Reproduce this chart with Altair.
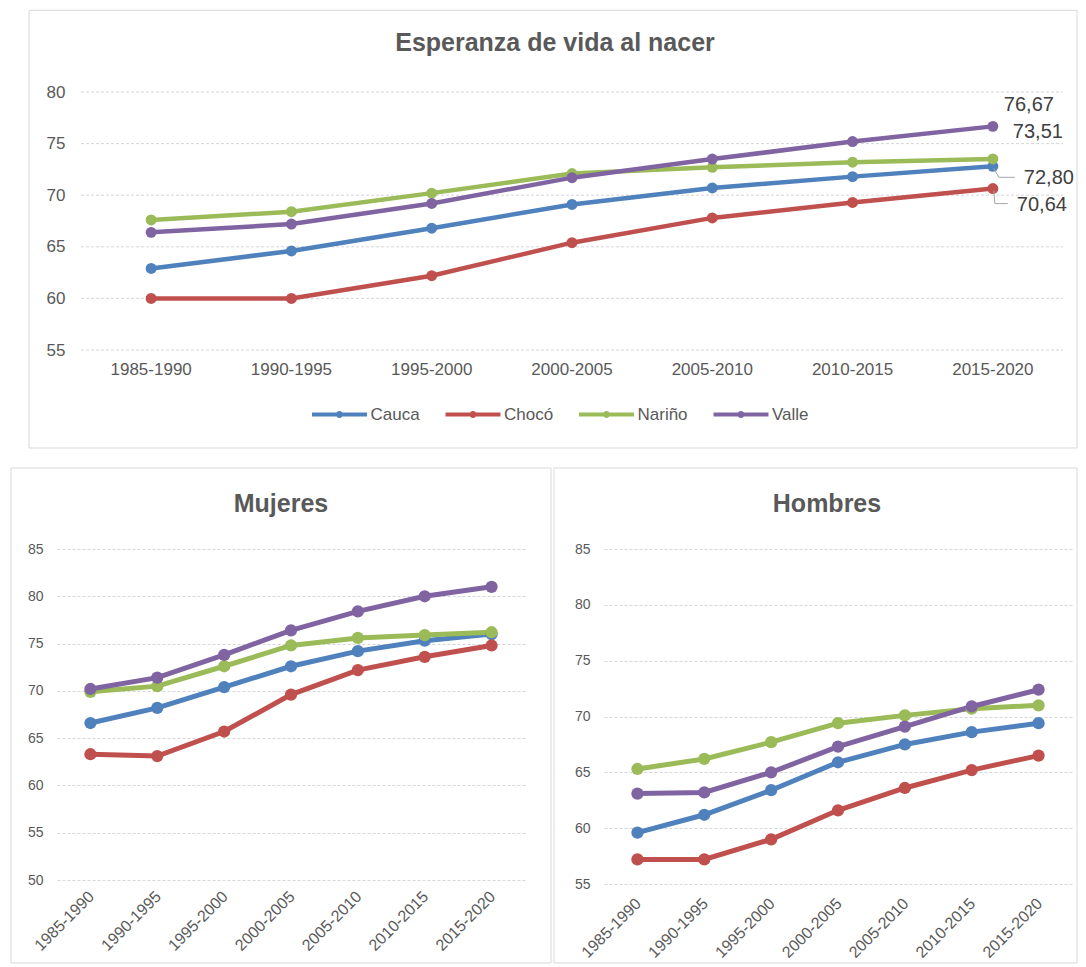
import altair as alt
import pandas as pd

# ---------------- data ----------------
periods = ["1985-1990", "1990-1995", "1995-2000", "2000-2005",
           "2005-2010", "2010-2015", "2015-2020"]
series = ["Cauca", "Chocó", "Nariño", "Valle"]
colors = ["#4F81BD", "#C0504D", "#9BBB59", "#8064A2"]

total_cauca = [62.9, 64.6, 66.8, 69.1, 70.7, 71.8, 72.80]
total_choco = [60.0, 60.0, 62.2, 65.4, 67.8, 69.3, 70.64]
total_narino = [67.6, 68.4, 70.2, 72.1, 72.7, 73.2, 73.51]
total_valle = [66.4, 67.2, 69.2, 71.7, 73.5, 75.2, 76.67]

mujeres_cauca = [66.6, 68.2, 70.4, 72.6, 74.2, 75.3, 76.0]
mujeres_choco = [63.3, 63.1, 65.7, 69.6, 72.2, 73.6, 74.8]
mujeres_narino = [69.9, 70.5, 72.6, 74.8, 75.6, 75.9, 76.2]
mujeres_valle = [70.2, 71.4, 73.8, 76.4, 78.4, 80.0, 81.0]

hombres_cauca = [59.6, 61.2, 63.4, 65.9, 67.5, 68.6, 69.4]
hombres_choco = [57.2, 57.2, 59.0, 61.6, 63.6, 65.2, 66.5]
hombres_narino = [65.3, 66.2, 67.7, 69.4, 70.1, 70.7, 71.0]
hombres_valle = [63.1, 63.2, 65.0, 67.3, 69.1, 70.9, 72.4]

top_ticks = [55, 60, 65, 70, 75, 80]
muj_ticks = [50, 55, 60, 65, 70, 75, 80, 85]
hom_ticks = [55, 60, 65, 70, 75, 80, 85]

title_top = "Esperanza de vida al nacer"
title_muj = "Mujeres"
title_hom = "Hombres"

# ---------------- style ----------------
FONT = "Liberation Sans"
TXT = "#595959"
GRID = "#D5D5DC"
BORDER = "#D9D9D9"
ONE = pd.DataFrame({"k": [0]})
LEG_PATH = "M-5.5,0L5.5,0M0.3,0A0.3,0.3,0,1,1,-0.3,0A0.3,0.3,0,1,1,0.3,0"


def long_df(cols):
    rows = []
    for s, vals in zip(series, cols):
        for p, v in zip(periods, vals):
            rows.append({"Periodo": p, "Serie": s, "Valor": v})
    return pd.DataFrame(rows)


def frame(x1, x2, y1, y2):
    return alt.Chart(ONE).mark_rect(
        fill="white", fillOpacity=0, stroke=BORDER, strokeWidth=1
    ).encode(x=alt.value(x1), x2=alt.value(x2), y=alt.value(y1), y2=alt.value(y2))


def title_mark(text, x, y, size):
    return alt.Chart(ONE).mark_text(
        text=text, font=FONT, fontSize=size, fontWeight="bold", color=TXT,
        align="center", baseline="alphabetic"
    ).encode(x=alt.value(x), y=alt.value(y))


def color_enc(legend):
    if legend is None:
        return alt.Color("Serie:N", sort=series,
                         scale=alt.Scale(domain=series, range=colors), legend=None)
    return alt.Color("Serie:N", sort=series,
                     scale=alt.Scale(domain=series, range=colors), legend=legend)


# ---------------- top panel ----------------
W_TOP, H_TOP = 1006, 258
SHIFT = 24
df_total = long_df([total_cauca, total_choco, total_narino, total_valle])

x_top = alt.X("Periodo:N", scale=alt.Scale(domain=periods, range=[SHIFT, W_TOP]),
              axis=alt.Axis(title=None, labelAngle=0, labelFontSize=17, labelFont=FONT,
                            labelColor=TXT, domain=False, ticks=False, grid=False,
                            labelPadding=11))
y_top = alt.Y("Valor:Q", scale=alt.Scale(domain=[55, 80], nice=False, zero=False),
              axis=alt.Axis(title=None, values=top_ticks, labelFontSize=17, labelFont=FONT,
                            labelColor=TXT, domain=False, ticks=False, grid=False,
                            labelPadding=16, offset=-SHIFT))

legend_top = alt.Legend(title=None, orient="none", legendX=274, legendY=314,
                        direction="horizontal", columns=4, symbolType=LEG_PATH,
                        symbolSize=100, symbolStrokeWidth=4, labelFontSize=17,
                        labelFont=FONT, labelColor=TXT, labelOffset=22.5,
                        columnPadding=17.5, padding=0)

grid_top = alt.Chart(pd.DataFrame({"Valor": top_ticks})).mark_rule(
    color=GRID, strokeDash=[3, 2], strokeWidth=1
).encode(y=y_top, x=alt.value(SHIFT), x2=alt.value(W_TOP))

lines_top = alt.Chart(df_total).mark_line(
    strokeWidth=4.5, point=alt.OverlayMarkDef(filled=True, size=120, opacity=1)
).encode(x=x_top, y=y_top, color=color_enc(legend_top))

last_vals = [total_cauca[-1], total_choco[-1], total_narino[-1], total_valle[-1]]
label_df = pd.DataFrame({
    "Periodo": [periods[-1]] * 4,
    "Serie": series,
    "Valor": last_vals,
    "Etiqueta": [f"{v:.2f}".replace(".", ",") for v in last_vals],
})
label_offsets = {"Cauca": (56, 12), "Chocó": (49, 16), "Nariño": (45, -27), "Valle": (36, -21)}
label_layers = []
for s in series:
    dx, dy = label_offsets[s]
    label_layers.append(
        alt.Chart(label_df).transform_filter(alt.datum.Serie == s).mark_text(
            font=FONT, fontSize=20, color="#404040", dx=dx, dy=dy,
            align="center", baseline="middle"
        ).encode(x=x_top, y=y_top, text="Etiqueta:N")
    )

leader_specs = [
    ("Cauca", 1, 2, 6, 11), ("Cauca", 6, 11, 22, 11),
    ("Chocó", 1, 2, 2, 15), ("Chocó", 2, 15, 15, 15),
]
leader_layers = []
for s, xo, yo, x2o, y2o in leader_specs:
    leader_layers.append(
        alt.Chart(label_df).transform_filter(alt.datum.Serie == s).mark_rule(
            color="#A6A6A6", strokeWidth=1, xOffset=xo, yOffset=yo,
            x2Offset=x2o, y2Offset=y2o
        ).encode(x=x_top, x2=alt.X2("Periodo"), y=y_top, y2=alt.Y2("Valor"))
    )

top = alt.layer(
    frame(-28, 1020, -81.7, H_TOP + 98),
    grid_top,
    lines_top,
    *leader_layers,
    *label_layers,
    title_mark(title_top, 498, -41, 25),
).properties(width=W_TOP, height=H_TOP)


# ---------------- bottom panels ----------------
def bottom_panel(cols, ticks, ymin, ymax, w, h, fr, title, tx, lpad):
    df = long_df(cols)
    x = alt.X("Periodo:N", scale=alt.Scale(domain=periods),
              axis=alt.Axis(title=None, labelAngle=-45, labelFontSize=16, labelFont=FONT,
                            labelColor=TXT, domain=False, ticks=False, grid=False,
                            labelPadding=lpad, labelOffset=-5))
    y = alt.Y("Valor:Q", scale=alt.Scale(domain=[ymin, ymax], nice=False, zero=False),
              axis=alt.Axis(title=None, values=ticks, labelFontSize=14, labelFont=FONT,
                            labelColor=TXT, domain=False, ticks=False, grid=True,
                            gridColor=GRID, gridDash=[3, 2], labelPadding=14))
    lines = alt.Chart(df).mark_line(
        strokeWidth=5, point=alt.OverlayMarkDef(filled=True, size=150, opacity=1)
    ).encode(x=x, y=y, color=color_enc(None))
    return alt.layer(
        frame(*fr),
        lines,
        title_mark(title, tx, -37, 25),
    ).properties(width=w, height=h)


left = bottom_panel([mujeres_cauca, mujeres_choco, mujeres_narino, mujeres_valle],
                    muj_ticks, 50, 85, 468, 331, (-46, 494, -81, 414), title_muj, 224, 8)
right = bottom_panel([hombres_cauca, hombres_choco, hombres_narino, hombres_valle],
                     hom_ticks, 55, 85, 468, 335, (-50, 473, -81, 414), title_hom, 223, 11)

bottom = alt.hconcat(left, right, spacing=1).resolve_scale(
    x="independent", y="independent", color="independent")

chart = alt.vconcat(top, bottom, spacing=18).resolve_scale(
    x="independent", y="independent", color="independent"
).properties(
    padding={"left": 2, "top": 1, "right": 0, "bottom": 0}
).configure_view(strokeWidth=0)

chart.save("out.html", embed_options={"renderer": "svg", "actions": False})
